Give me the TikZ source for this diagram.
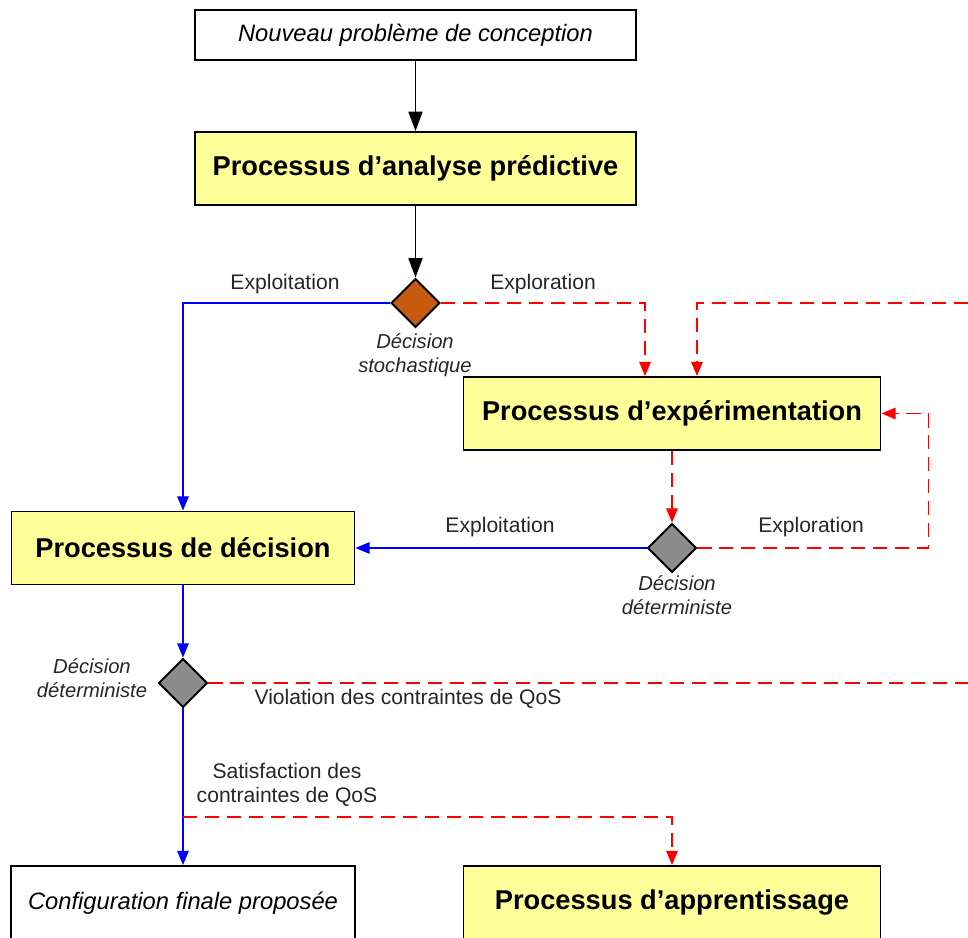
\documentclass[tikz,border=0pt]{standalone}
\usepackage{fontspec}
\setmainfont{Liberation Sans}
\usepackage{xcolor}
\usepackage{tikz}
\usetikzlibrary{shapes.geometric}
\usetikzlibrary{arrows.meta}

\definecolor{boxyellow}{HTML}{FFFF99}
\definecolor{stochbrown}{HTML}{C65A0E}
\definecolor{detgray}{HTML}{8C8C8C}
\definecolor{exploitblue}{HTML}{0000FF}
\definecolor{explorered}{HTML}{FF0000}
\definecolor{labelgray}{HTML}{262626}

\begin{document}
\begin{tikzpicture}[line width=0.85pt]

			\tikzstyle{process} = [draw,line width=1.1pt,fill=boxyellow,minimum width=8.82cm,minimum height=1.46cm,font=\fontsize{15.5}{18}\selectfont\bfseries]
			\tikzstyle{endbox} = [draw,line width=1.1pt,fill=white,minimum height=1.0cm,font=\fontsize{13.5}{16}\selectfont\itshape]
			\tikzstyle{choice} = [draw,diamond,line width=1.1pt,minimum width=0.98cm,minimum height=0.98cm,inner sep=0pt]
			\tikzstyle{flowlabel} = [text=labelgray,font=\fontsize{12}{14}\selectfont]
			\tikzstyle{choicelabel} = [text=labelgray,align=center,font=\fontsize{11.5}{13.5}\selectfont\itshape]
			\tikzstyle{plain} = [draw=black,-{Triangle[length=11pt,width=8pt]}]
			\tikzstyle{exploit} = [draw=exploitblue,-{Triangle[length=8pt,width=6.5pt]}]
			\tikzstyle{explore} = [draw=explorered,dash pattern=on 8pt off 4.5pt,-{Triangle[length=8pt,width=6.5pt]}]

			\useasboundingbox (0,0) rectangle (19.36,18.76);

			% boxes
			\node[endbox,minimum width=8.82cm] (newpb) at (8.31,18.06) {Nouveau problème de conception};
			\node[process] (analyse) at (8.31,15.39) {Processus d’analyse prédictive};
			\node[process,minimum width=8.34cm] (experim) at (13.44,10.49) {Processus d’expérimentation};
			\node[process,minimum width=6.86cm] (decision) at (3.66,7.80) {Processus de décision};
			\node[endbox,minimum width=6.88cm,minimum height=1.48cm] (config) at (3.66,0.70) {Configuration finale proposée};
			\node[process,minimum width=8.34cm,minimum height=1.48cm] (apprent) at (13.44,0.70) {Processus d’apprentissage};

			% decisions
			\node[choice,fill=stochbrown] (stoch) at (8.31,12.70) {};
			\node[choice,fill=detgray] (detexp) at (13.44,7.80) {};
			\node[choice,fill=detgray] (detdec) at (3.66,5.10) {};

			\node[choicelabel] (stochlab) at (8.30,11.66) {Décision\\stochastique};
			\node[choicelabel] (detexplab) at (13.54,6.86) {Décision\\déterministe};
			\node[choicelabel] (detdeclab) at (1.84,5.20) {Décision\\déterministe};

			% free ends
			\coordinate (loopin) at (19.36,12.70);
			\coordinate (violout) at (19.36,5.10);
			\coordinate (satis) at (3.66,2.42);

			% connectors
			\draw[plain] (newpb) -- (analyse);
			\draw[plain] (analyse) -- (stoch);
			\draw[exploit] (stoch.west) -| (decision.north);
			\draw[explore] (stoch.east) -| ([xshift=-0.54cm]experim.north);
			\draw[explore] (loopin) -| ([xshift=0.50cm]experim.north);
			\draw[explore] (experim) -- (detexp);
			\draw[exploit] (detexp.west) -- (decision.east);
			\draw[explore] (detexp.east) -- ++(4.62,0) |- (experim.east);
			\draw[exploit] (decision) -- (detdec);
			\draw[explore,-] (detdec.east) -- (violout);
			\draw[exploit] (detdec) -- (config);
			\draw[explore] (satis) -| (apprent.north);

			% labels
			\node[flowlabel] (l1) at (5.70,13.08) {Exploitation};
			\node[flowlabel] (l2) at (10.86,13.08) {Exploration};
			\node[flowlabel] (l3) at (10.00,8.22) {Exploitation};
			\node[flowlabel] (l4) at (16.22,8.22) {Exploration};
			\node[flowlabel] (l5) at (8.16,4.78) {Violation des contraintes de QoS};
			\node[flowlabel,align=center] (l6) at (5.74,3.06) {Satisfaction des\\contraintes de QoS};

		\end{tikzpicture}
\end{document}
